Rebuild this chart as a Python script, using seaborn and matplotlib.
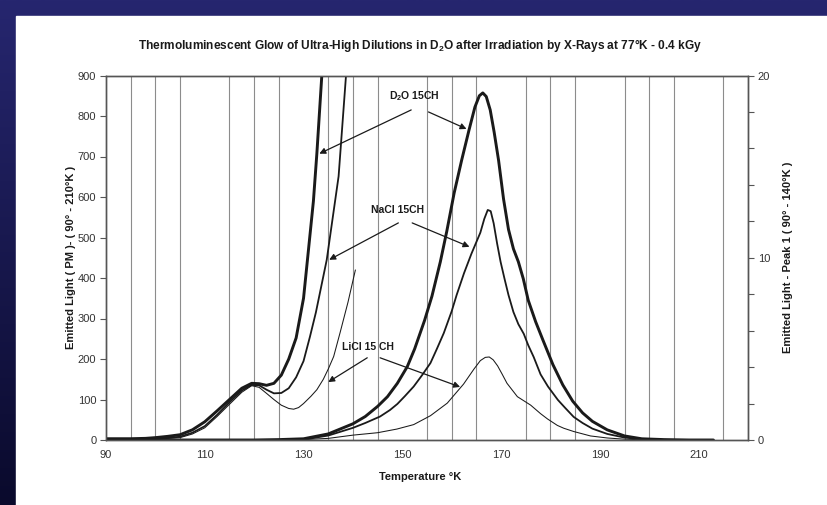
import numpy as np
import matplotlib
matplotlib.use("Agg")
import matplotlib.pyplot as plt
import seaborn as sns
from matplotlib.patches import Rectangle
from matplotlib.colors import LinearSegmentedColormap
from matplotlib.ticker import MultipleLocator, FixedLocator

# ─── Data ─────────────────────────────────────────────────────────────────────

# Main glow peak, left axis (photomultiplier counts, 90-210 K)
temp_d2o = [90, 100, 110, 120, 125, 130, 135, 140, 142.5, 145, 147, 149, 151,
            152.5, 154.5, 156, 157.7, 159, 160.5, 162, 163.5, 164.7, 165.6,
            166.3, 167, 167.8, 168.6, 169.5, 170.5, 171.5, 172.5, 173.5,
            174.5, 175.5, 177, 178.5, 180.5, 182.5, 184.5, 186.5, 188.5,
            191.5, 195, 198.5, 203, 208, 213]
d2o_main = [0, 0, 0, 0, 1, 3, 15, 40, 58, 83, 107, 140, 181,
            225, 295, 355, 440, 515, 610, 690, 765, 822, 850,
            857, 848, 815, 760, 690, 595, 520, 472, 440,
            398, 345, 292, 246, 186, 136, 96, 67, 46,
            25, 10, 3, 1, 0, 0]

temp_nacl = [90, 100, 110, 120, 125, 130, 135, 140, 142.5, 145.5, 147.5, 149,
             150.5, 152.3, 154, 155.7, 157, 158.4, 160, 161, 162.5, 164,
             165.8, 166.6, 167.3, 167.9, 168.5, 169.2, 169.9, 170.7, 171.5,
             172.5, 173.5, 174.6, 175.5, 176.6, 178, 179.5, 181.5, 183, 184.7,
             186.5, 188.5, 191.5, 195, 198.5, 203, 208, 213]
nacl_main = [0, 0, 0, 0, 0, 1, 11, 30, 42, 58, 74, 89,
             108, 132, 160, 190, 225, 264, 318, 358, 412, 460,
             512, 546, 568, 565, 535, 485, 440, 398, 358,
             316, 286, 262, 234, 205, 162, 132, 99, 79, 57,
             42, 28, 15, 6, 2, 0, 0, 0]

temp_licl = [90, 100, 110, 120, 125, 130, 135, 140, 145, 148.9, 152.3, 155.7,
             159.1, 162.4, 164.5, 165.8, 166.8, 167.6, 168.4, 169.3, 170.2,
             171.2, 173.3, 176, 178, 179.4, 181.4, 182.7, 184.7, 188.1, 191.5,
             195, 200, 205, 213]
licl_main = [0, 0, 0, 0, 0, 1, 4, 12, 18, 27, 38, 60,
             91, 138, 175, 196, 204, 205, 198, 183, 163,
             140, 107, 86, 65, 52, 36, 29, 21, 10, 5,
             2, 0, 0, 0]

# Peak 1, right axis (0-20 scale, 90-140 K)
temp_d2o_p1 = [90, 95, 98, 100, 102.5, 105, 107.5, 110, 112.5, 115, 117.5,
               119.5, 121, 122.5, 124, 125.5, 127, 128.5, 130, 131, 132,
               132.7, 133.7, 134.2]
d2o_p1 = [0.07, 0.07, 0.09, 0.13, 0.2, 0.29, 0.56, 1.0, 1.6, 2.22, 2.84,
          3.11, 3.09, 3.0, 3.11, 3.56, 4.44, 5.6, 7.78, 10.44, 13.11,
          15.73, 20.0, 22.0]

temp_nacl_p1 = [90, 95, 100, 102.5, 105, 107.5, 110, 112.5, 115, 117.5,
                119.5, 121, 122.5, 124, 125.5, 127, 128.5, 130, 131.3, 132.5,
                134.7, 137.1, 138.6, 139.2]
nacl_p1 = [0.04, 0.04, 0.07, 0.11, 0.18, 0.4, 0.76, 1.38, 2.07, 2.71,
           3.02, 3.0, 2.76, 2.56, 2.58, 2.84, 3.44, 4.33, 5.67, 7.0,
           9.89, 14.47, 20.0, 22.0]

temp_licl_p1 = [90, 95, 100, 102.5, 105, 107.5, 110, 112.5, 115, 117.5,
                119.5, 121, 122.5, 124, 125.5, 127, 128, 129, 130, 131.5,
                132.7, 134, 135, 136.1, 137.4, 139, 140.5]
licl_p1 = [0.02, 0.02, 0.04, 0.09, 0.13, 0.33, 0.67, 1.29, 1.96, 2.62,
           2.98, 2.89, 2.56, 2.22, 1.91, 1.73, 1.69, 1.78, 2.0, 2.4,
           2.76, 3.33, 3.89, 4.58, 5.89, 7.56, 9.33]

x_labels = [90, 110, 130, 150, 170, 190, 210]
left_ticks = [0, 100, 200, 300, 400, 500, 600, 700, 800, 900]
right_ticks = [0, 10, 20]

# ─── Style ────────────────────────────────────────────────────────────────────

INK = "#1a1a1a"
GRID = "#8c8c8c"
LW = {"thick": 2.1, "mid": 1.3, "thin": 0.75}

sns.set_theme(style="white")
plt.rcParams["font.family"] = ["Liberation Sans", "DejaVu Sans"]
plt.rcParams.update({
    "mathtext.fontset": "custom",
    "mathtext.rm": "Liberation Sans",
    "mathtext.bf": "Liberation Sans:bold",
    "text.color": INK,
    "axes.labelcolor": INK,
    "xtick.color": "#333",
    "ytick.color": "#333",
})

fig = plt.figure(figsize=(8.27, 5.05), dpi=100)

# slide background: navy frame, white page
bg = fig.add_axes([0, 0, 1, 1], zorder=-10)
bg.axis("off")
navy = LinearSegmentedColormap.from_list("navy", ["#26266f", "#0a0a2c"])
bg.imshow(np.linspace(0, 1, 256).reshape(-1, 1), cmap=navy, aspect="auto",
          extent=[0, 1, 0, 1])
bg.add_patch(Rectangle((16 / 827, 0), 1, 1 - 16 / 505,
                       transform=bg.transAxes, color="white", zorder=2))
bg.set_xlim(0, 1); bg.set_ylim(0, 1)

ax = fig.add_axes([106 / 827, 65 / 505, 642 / 827, 364.5 / 505])
ax.set_facecolor("none")
ax2 = ax.twinx()

# ─── Curves ───────────────────────────────────────────────────────────────────

sns.lineplot(x=temp_d2o, y=d2o_main, ax=ax, color=INK, lw=LW["thick"])
sns.lineplot(x=temp_nacl, y=nacl_main, ax=ax, color=INK, lw=LW["mid"])
sns.lineplot(x=temp_licl, y=licl_main, ax=ax, color=INK, lw=LW["thin"])

sns.lineplot(x=temp_d2o_p1, y=d2o_p1, ax=ax2, color=INK, lw=LW["thick"])
sns.lineplot(x=temp_nacl_p1, y=nacl_p1, ax=ax2, color=INK, lw=LW["mid"])
sns.lineplot(x=temp_licl_p1, y=licl_p1, ax=ax2, color=INK, lw=LW["thin"])

# ─── Axes ─────────────────────────────────────────────────────────────────────

ax.set_xlim(90, 220)
ax.set_ylim(0, 900)
ax2.set_ylim(0, 20)

ax.xaxis.set_major_locator(FixedLocator(x_labels))
ax.xaxis.set_minor_locator(MultipleLocator(5))
ax.grid(False); ax2.grid(False)
ax.grid(True, which="minor", axis="x", color=GRID, lw=0.8)
ax.set_axisbelow(True)
ax.tick_params(axis="x", which="both", length=0, pad=7, labelsize=8)

ax.set_yticks(left_ticks)
ax.tick_params(axis="y", direction="out", length=4, width=0.8,
               color="#555", labelsize=8, pad=3)
ax2.set_yticks(right_ticks)
ax2.yaxis.set_minor_locator(MultipleLocator(2))
ax2.tick_params(axis="y", which="both", direction="out", length=4, width=0.8,
                color="#555", labelsize=8, pad=3)

for a in (ax, ax2):
    for s in a.spines.values():
        s.set_color("#555")
        s.set_linewidth(1.0)
        s.set_visible(True)

ax.set_xlabel("Temperature °K", fontsize=8, fontweight="bold")
ax.xaxis.set_label_coords(0.49, -0.088)
ax.set_ylabel("Emitted Light ( PM )- ( 90° - 210°K )", fontsize=8,
              fontweight="bold")
ax.yaxis.set_label_coords(-0.047, 0.5)
ax2.set_ylabel("Emitted Light - Peak 1 ( 90° - 140°K )", fontsize=8,
               fontweight="bold", rotation=90)
ax2.yaxis.set_label_coords(1.055, 0.5)

fig.text(420 / 827, 1 - 46 / 505,
         r"Thermoluminescent Glow of Ultra-High Dilutions in D$_\mathbf{2}$O "
         "after Irradiation by X-Rays at 77°K - 0.4 kGy",
         ha="center", va="center", fontsize=8.6, fontweight="bold")

# ─── Labels + arrows (left-axis data coords) ─────────────────────────────────

arrow = dict(arrowstyle="-|>", color=INK, lw=0.9, mutation_scale=9,
             shrinkA=0, shrinkB=0)

ax.text(152.4, 850, r"D$_\mathbf{2}$O 15CH", ha="center", va="center",
        fontsize=7.5, fontweight="bold")
ax.annotate("", xy=(133.2, 707), xytext=(151.8, 815), arrowprops=arrow)
ax.annotate("", xy=(163.0, 768), xytext=(155.3, 810), arrowprops=arrow)

ax.text(149.1, 568, "NaCl 15CH", ha="center", va="center",
        fontsize=7.5, fontweight="bold")
ax.annotate("", xy=(135.2, 445), xytext=(149.2, 536), arrowprops=arrow)
ax.annotate("", xy=(163.6, 477), xytext=(152.0, 536), arrowprops=arrow)

ax.text(143.0, 230, "LiCl 15 CH", ha="center", va="center",
        fontsize=7.5, fontweight="bold")
ax.annotate("", xy=(135.0, 143), xytext=(142.9, 203), arrowprops=arrow)
ax.annotate("", xy=(161.7, 131), xytext=(145.5, 203), arrowprops=arrow)

fig.savefig("out.png", dpi=100)
